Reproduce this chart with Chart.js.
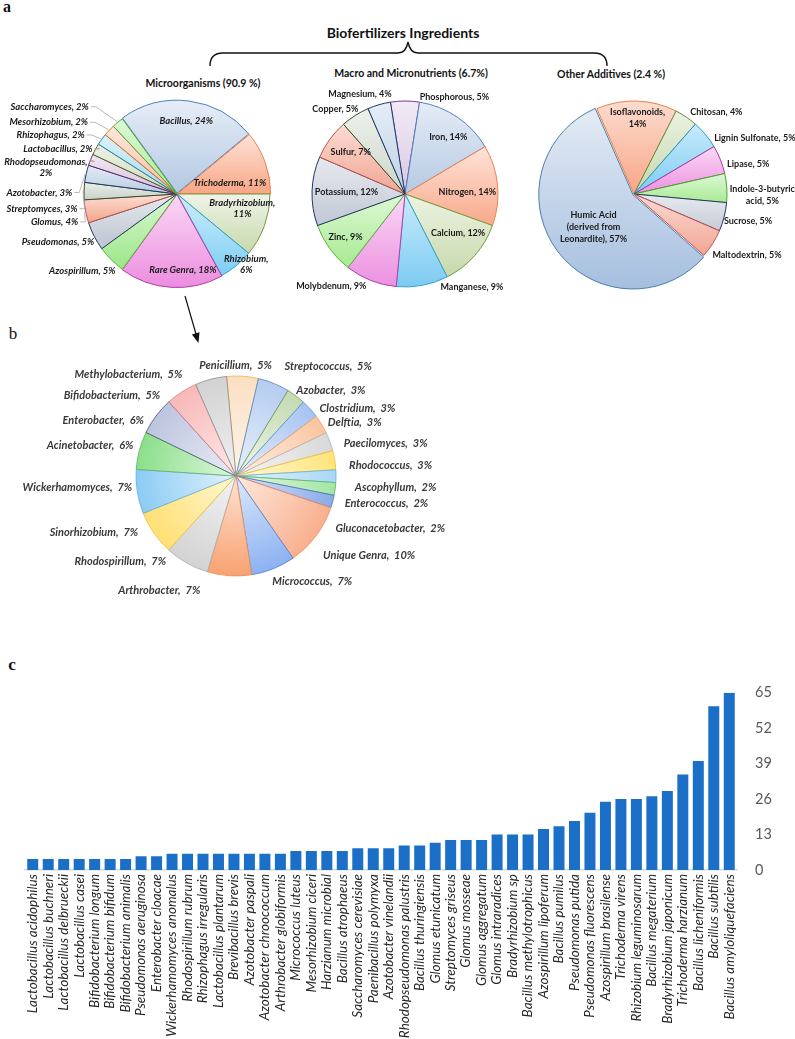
<!DOCTYPE html>
<html>
<head>
<meta charset="utf-8">
<script src="https://cdn.jsdelivr.net/npm/chart.js@4.4.1/dist/chart.umd.min.js"></script>
<style>
  body { margin: 0; background: #fff; }
  #page { position: relative; width: 795px; height: 1039px; overflow: hidden; font-family: Lato, "Open Sans", sans-serif; }
  canvas, svg, .txt { position: absolute; }
  .txt { transform: translate(-50%, -50%); white-space: nowrap; color: #111; font-weight: bold; }
  .letter { font-family: "Liberation Serif", "DejaVu Serif", serif; }
</style>
</head>
<body>
<div id="page">
  <div class="txt letter" style="left:7px;top:7px;font-size:16px;">a</div>
  <div class="txt letter" style="left:13px;top:334px;font-size:17px;font-weight:normal;">b</div>
  <div class="txt letter" style="left:12px;top:665px;font-size:17px;">c</div>

  <div class="txt" style="left:403px;top:32px;font-size:14px;">Biofertilizers Ingredients</div>
  <div class="txt" style="left:203px;top:83px;font-size:10.5px;">Microorganisms (90.9 %)</div>
  <div class="txt" style="left:411px;top:73px;font-size:10.5px;">Macro and Micronutrients (6.7%)</div>
  <div class="txt" style="left:611px;top:74px;font-size:10.5px;">Other Additives (2.4 %)</div>

  <svg width="795" height="1039" style="left:0;top:0;">
    <path d="M210,66 Q210,53 223,53 L398,53 Q406,53 408,42 Q410,53 418,53 L594,53 Q607,53 607,66" fill="none" stroke="#111" stroke-width="1.4"/>
    <line x1="185" y1="296" x2="196" y2="334" stroke="#111" stroke-width="1.2"/>
    <polygon points="198.5,343 199.5,332.3 191.9,334.5" fill="#111"/>
  </svg>

  <canvas id="micro" width="285" height="215" style="left:0;top:90px;"></canvas>
  <canvas id="nutrients" width="225" height="215" style="left:290px;top:85px;"></canvas>
  <canvas id="additives" width="275" height="215" style="left:520px;top:85px;"></canvas>
  <canvas id="rare" width="470" height="255" style="left:0;top:350px;"></canvas>
  <canvas id="bars" width="795" height="373" style="left:0;top:666px;"></canvas>
</div>
<script>
// a: microorganisms
const microNames = ["Bacillus", "Trichoderma", "Bradyrhizobium\n", "Rhizobium\n", "Rare Genra", "Azospirillum",
  "Pseudomonas", "Glomus", "Streptomyces", "Azotobacter", "Rhodopseudomonas\n", "Lactobacillus", "Rhizophagus",
  "Mesorhizobium", "Saccharomyces"];
const microShares = [24, 11, 11, 6, 18, 5, 5, 4, 3, 3, 2, 2, 2, 2, 2];

// a: macro and micronutrients
const nutrientNames = ["Phosphorous", "Iron", "Nitrogen", "Calcium", "Manganese", "Molybdenum", "Zinc",
  "Potassium", "Sulfur", "Copper", "Magnesium"];
const nutrientShares = [5, 14, 14, 12, 9, 9, 9, 12, 7, 5, 4];

// a: other additives
const additiveNames = ["Isoflavonoids\n", "Chitosan", "Lignin Sulfonate", "Lipase", "Indole-3-butyric\nacid",
  "Sucrose", "Maltodextrin", "Humic Acid\n(derived from\nLeonardite)"];
const additiveShares = [14, 4, 5, 5, 5, 5, 5, 57];

// b: rare genra
const rareNames = ["Penicillium", "Streptococcus", "Azobacter", "Clostridium", "Delftia", "Paecilomyces",
  "Rhodococcus", "Ascophyllum", "Enterococcus", "Gluconacetobacter", "Unique Genra", "Micrococcus",
  "Arthrobacter", "Rhodospirillum", "Sinorhizobium", "Wickerhamomyces", "Acinetobacter", "Enterobacter",
  "Bifidobacterium", "Methylobacterium"];
const rareShares = [5, 5, 3, 3, 3, 3, 3, 2, 2, 2, 10, 7, 7, 7, 7, 7, 6, 6, 5, 5];

// c: species counts
const speciesNames = ["Lactobacillus acidophilus", "Lactobacillus buchneri", "Lactobacillus delbrueckii",
  "Lactobacillus casei", "Bifidobacterium longum", "Bifidobacterium bifidum", "Bifidobacterium animalis",
  "Pseudomonas aeruginosa", "Enterobacter cloacae", "Wickerhamomyces anomalus", "Rhodospirillum rubrum",
  "Rhizophagus irregularis", "Lactobacillus plantarum", "Brevibacillus brevis", "Azotobacter paspali",
  "Azotobacter chroococcum", "Arthrobacter globiformis", "Micrococcus luteus", "Mesorhizobium ciceri",
  "Harzianum microbial", "Bacillus atrophaeus", "Saccharomyces cerevisiae", "Paenibacillus polymyxa",
  "Azotobacter vinelandii", "Rhodopseudomonas palustris", "Bacillus thuringiensis", "Glomus etunicatum",
  "Streptomyces griseus", "Glomus mosseae", "Glomus aggregatum", "Glomus intraradices", "Bradyrhizobium sp",
  "Bacillus methylotrophicus", "Azospirillum lipoferum", "Bacillus pumilus", "Pseudomonas putida",
  "Pseudomonas fluorescens", "Azospirillum brasilense", "Trichoderma virens", "Rhizobium leguminosarum",
  "Bacillus megaterium", "Bradyrhizobium japonicum", "Trichoderma harzianum", "Bacillus licheniformis",
  "Bacillus subtilis", "Bacillus amyloliquefaciens"];
const speciesCounts = [4, 4, 4, 4, 4, 4, 4, 5, 5, 6, 6, 6, 6, 6, 6, 6, 6, 7, 7, 7, 7, 8, 8, 8, 9, 9, 10,
  11, 11, 11, 13, 13, 13, 15, 16, 18, 21, 25, 26, 26, 27, 29, 35, 40, 60, 65];
const countTicks = [0, 13, 26, 39, 52, 65];

// colours: [top/centre, bottom/rim, border]
const microColors = [
  ["#e6edf7", "#b3c8e2", "#4f81bd"], ["#fde3d8", "#f8a583", "#e8804a"], ["#eff4e8", "#c6d8aa", "#77933c"],
  ["#cdedfc", "#7dcdf3", "#31a0c8"], ["#fad8f4", "#ec8cdf", "#b43ca8"], ["#dbf7d2", "#9ae686", "#5cb43c"],
  ["#e6e9ee", "#bcc3cf", "#1f3a5f"], ["#fde0d4", "#f2a288", "#c0504d"], ["#eaeee9", "#c6d0c8", "#2e4d2e"],
  ["#e4ecf6", "#b6cae3", "#1f3864"], ["#f1e8f2", "#d6c0db", "#5f2a6d"], ["#edf2e6", "#ccdabc", "#4f6228"],
  ["#dbf1fb", "#a0daf4", "#31859c"], ["#fee7dd", "#f9bca3", "#e46c0a"], ["#ddf7d6", "#abe89c", "#4ea72e"]];
const nutrientColors = [
  ["#f2ebf6", "#d8c6e3", "#7a3a8f"], ["#e5ecf6", "#b5c9e3", "#4f81bd"], ["#fee3d8", "#f8a88a", "#f08050"],
  ["#edf3e3", "#c6d8aa", "#6f9a3a"], ["#c8ebfb", "#7ccbf2", "#35a3cf"], ["#fad9f5", "#ec8fe0", "#b040a8"],
  ["#def8d5", "#a5ea90", "#57b33a"], ["#e7eaef", "#c0c7d4", "#1f3864"], ["#fbdcd3", "#f0a492", "#c0504d"],
  ["#edf1eb", "#ccd5c9", "#2f4f2f"], ["#e6edf7", "#bdd0e7", "#1f3864"]];
const additiveColors = [
  ["#fddccf", "#f8a586", "#e8804a"], ["#ebf2e2", "#c3d7ac", "#5e8a36"], ["#c8ebfb", "#7ccbf2", "#2f94c0"],
  ["#fad9f5", "#ec8fe0", "#a9379c"], ["#def8d5", "#a5ea90", "#4e9e30"], ["#e8ebef", "#c3c9d4", "#1f3864"],
  ["#fbdcd3", "#f0a492", "#c0504d"], ["#e3ebf5", "#a6bfdf", "#4a7eab"]];
const rareColors = [
  ["#fdf5ec", "#fbdfc2", "#f0b040"], ["#e9f0fa", "#b5cdf0", "#4f81bd"], ["#f0f6ea", "#c3dab2", "#6e9a4a"],
  ["#e6eefb", "#a6c4f3", "#5b8fd8"], ["#fef0e6", "#fac59f", "#f4a05e"], ["#f5f5f5", "#d9d9d9", "#b0b0b0"],
  ["#fff8d8", "#ffe47a", "#f0c020"], ["#e7f4fc", "#a9d7f5", "#5ab0e0"], ["#e3f8e3", "#a2e6a2", "#60b060"],
  ["#d9e4f8", "#8aabe7", "#4470c0"], ["#fee9de", "#f8b08e", "#ee8a55"], ["#dce8fb", "#8cb2f2", "#4a7ad0"],
  ["#fee3d3", "#f8a271", "#ef8a4d"], ["#f3f3f3", "#d3d3d3", "#a9a9a9"], ["#fff7d0", "#ffe075", "#f0c030"],
  ["#e2f2fd", "#8ccbf5", "#5aaee0"], ["#ddf6dd", "#8bdf8b", "#5faf5f"], ["#eaedf5", "#bdc4de", "#44546a"],
  ["#fee8e8", "#f8b8b8", "#e07c7c"], ["#f1f1f1", "#d2d2d2", "#8a8a8a"]];

// label placement: [distance / radius, angle shift in degrees from slice middle]
const microLabelAt = [[0.79, 0], [0.58, 8], [0.72, -7], [1.06, -5], [0.82, -8], [1.31, 6], [1.38, 5],
  [1.35, -2], [1.46, -8], [1.48, -12], [1.44, -10], [1.37, -8], [1.5, -11], [1.58, -14], [1.66, -16]];
const microLeader = [0, 0, 0, 0, 0, 0, 0, 1, 1, 1, 1, 1, 1, 1, 1];
const nutrientLabelAt = [[1.17, 27], [0.77, 3], [0.67, 4], [0.71, -5], [1.23, -25], [1.27, 17], [0.79, 0],
  [0.63, 0], [0.74, 2], [1.18, -7], [1.18, -8]];
const additiveLabelAt = [[0.82, 1], [1.25, 11], [1.43, 15], [1.27, 7], [1.38, 4], [1.26, -1], [1.38, -4],
  [0.56, -3]];
const rareLabelAt = [[1.11, -4], [1.43, 18], [1.28, 11], [1.39, 13], [1.3, 7], [1.53, 8], [1.55, 5], [1.6, 4],
  [1.53, 3], [1.63, 4], [1.55, -6], [1.3, -14], [1.38, 30], [1.44, 24], [1.53, 13], [1.59, 5], [1.49, -3],
  [1.44, -14], [1.48, -24], [1.48, -32]];

function labelLines(name, value, sep) {
  const parts = name.split("\n");
  if (parts[parts.length - 1] === "") {
    parts.pop();
    parts[parts.length - 1] += ",";
    parts.push(value + "%");
  } else {
    parts[parts.length - 1] += "," + sep + value + "%";
  }
  return parts;
}

// gradient fill of one slice (vertical per slice, or radial from the centre)
function sliceFill(c, colors, rotation, radius, radial) {
  const chart = c.chart, area = chart.chartArea;
  const col = colors[c.dataIndex];
  if (!area || c.type !== "data") return col[1];
  const cx = (area.left + area.right) / 2, cy = (area.top + area.bottom) / 2;
  if (radial) {
    const g = chart.ctx.createRadialGradient(cx, cy, 0, cx, cy, radius);
    g.addColorStop(0, col[0]);
    g.addColorStop(1, col[1]);
    return g;
  }
  const vals = c.dataset.data;
  const total = vals.reduce((a, b) => a + b, 0);
  let a0 = rotation * Math.PI / 180 - Math.PI / 2;
  for (let i = 0; i < c.dataIndex; i++) a0 += vals[i] / total * 2 * Math.PI;
  const a1 = a0 + vals[c.dataIndex] / total * 2 * Math.PI;
  const ys = [cy, cy + radius * Math.sin(a0), cy + radius * Math.sin(a1)];
  for (let k = -3; k <= 3; k++) {
    const t1 = -Math.PI / 2 + k * Math.PI;
    if (t1 > a0 && t1 < a1) ys.push(cy + radius * Math.sin(t1));
  }
  const g = chart.ctx.createLinearGradient(0, Math.min(...ys), 0, Math.max(...ys) + 1);
  g.addColorStop(0, col[0]);
  g.addColorStop(1, col[1]);
  return g;
}

const sliceLabels = {
  id: "sliceLabels",
  afterDatasetsDraw(chart, args, o) {
    const ctx = chart.ctx;
    const arcs = chart.getDatasetMeta(0).data;
    const names = chart.data.labels, vals = chart.data.datasets[0].data;
    ctx.save();
    ctx.font = o.font;
    ctx.fillStyle = o.color;
    ctx.textAlign = "center";
    ctx.textBaseline = "middle";
    arcs.forEach((arc, i) => {
      const R = arc.outerRadius;
      const mid = (arc.startAngle + arc.endAngle) / 2;
      const a = mid + o.at[i][1] * Math.PI / 180;
      const x = arc.x + Math.cos(a) * o.at[i][0] * R;
      const y = arc.y + Math.sin(a) * o.at[i][0] * R;
      const lines = labelLines(names[i], vals[i], o.sep);
      const y0 = y - (lines.length - 1) / 2 * o.lineHeight;
      lines.forEach((t, k) => ctx.fillText(t, x, y0 + k * o.lineHeight));
      if (o.leader && o.leader[i]) {
        const xr = x + ctx.measureText(lines[0]).width / 2;
        ctx.strokeStyle = "#a6a6a6";
        ctx.lineWidth = 0.8;
        ctx.beginPath();
        ctx.moveTo(xr + 2, y0);
        ctx.lineTo(xr + 7, y0);
        ctx.lineTo(arc.x + Math.cos(mid) * (R + 1), arc.y + Math.sin(mid) * (R + 1));
        ctx.stroke();
      }
    });
    ctx.restore();
  }
};

function makePie(id, names, shares, colors, opt) {
  const cv = document.getElementById(id);
  const R = opt.radius;
  const pad = {
    left: opt.cx - R, right: cv.width - opt.cx - R,
    top: opt.cy - R, bottom: cv.height - opt.cy - R
  };
  return new Chart(cv, {
    type: "pie",
    data: {
      labels: names,
      datasets: [{
        data: shares,
        backgroundColor: c => sliceFill(c, colors, opt.rotation, R, opt.radial),
        borderColor: colors.map(c => c[2]),
        borderWidth: opt.borderWidth,
        offset: opt.offset || 0
      }]
    },
    options: {
      responsive: false,
      animation: false,
      rotation: opt.rotation,
      radius: R,
      layout: { padding: pad },
      plugins: {
        legend: { display: false },
        tooltip: { enabled: false },
        sliceLabels: {
          at: opt.labelAt, leader: opt.leader, font: opt.font, color: opt.color,
          sep: opt.sep, lineHeight: opt.lineHeight
        }
      }
    },
    plugins: [sliceLabels]
  });
}

makePie("micro", microNames, microShares, microColors, {
  cx: 177, cy: 104, radius: 93, rotation: -36, borderWidth: 1,
  offset: [3, 2, 0, 0, 2, 0, 0, 0, 0, 0, 0, 0, 0, 0, 0],
  labelAt: microLabelAt, leader: microLeader,
  font: "italic bold 9.5px Lato", color: "#1a1a1a", sep: " ", lineHeight: 11
});

makePie("nutrients", nutrientNames, nutrientShares, nutrientColors, {
  cx: 115, cy: 109, radius: 93, rotation: -9, borderWidth: 1,
  labelAt: nutrientLabelAt,
  font: "bold 9px Lato", color: "#1a1a1a", sep: " ", lineHeight: 11
});

makePie("additives", additiveNames, additiveShares, additiveColors, {
  cx: 114, cy: 109, radius: 93, rotation: -23.5, borderWidth: 1,
  offset: [0, 0, 0, 0, 0, 0, 0, 5],
  labelAt: additiveLabelAt,
  font: "bold 9px Lato", color: "#1a1a1a", sep: " ", lineHeight: 12
});

makePie("rare", rareNames, rareShares, rareColors, {
  cx: 236, cy: 126, radius: 100, rotation: -5.4, borderWidth: 0.8, radial: true,
  labelAt: rareLabelAt,
  font: "italic bold 11px Lato", color: "#3a3a3a", sep: "  ", lineHeight: 12
});

new Chart(document.getElementById("bars"), {
  type: "bar",
  data: {
    labels: speciesNames,
    datasets: [{
      data: speciesCounts,
      backgroundColor: "#1b6fc6",
      barPercentage: 0.71,
      categoryPercentage: 1
    }]
  },
  options: {
    responsive: false,
    animation: false,
    layout: { padding: { left: 25, top: 12, right: 0, bottom: 0 } },
    plugins: { legend: { display: false }, tooltip: { enabled: false } },
    scales: {
      x: {
        grid: { display: false, drawTicks: false },
        border: { display: true, color: "#d9d9d9", width: 1.5 },
        ticks: {
          autoSkip: false, maxRotation: 90, minRotation: 90, padding: 4, color: "#262626",
          font: { family: "Lato", style: "italic", size: 13.5 }
        },
        afterFit: s => { s.height = 169; }
      },
      y: {
        position: "right",
        min: countTicks[0],
        max: countTicks[countTicks.length - 1],
        grid: { display: false, drawTicks: false },
        border: { display: false },
        ticks: {
          stepSize: countTicks[1] - countTicks[0], padding: 18, color: "#595959",
          font: { family: "Lato", size: 14.5 }
        },
        afterFit: s => { s.width = 58; }
      }
    }
  }
});
</script>
</body>
</html>
